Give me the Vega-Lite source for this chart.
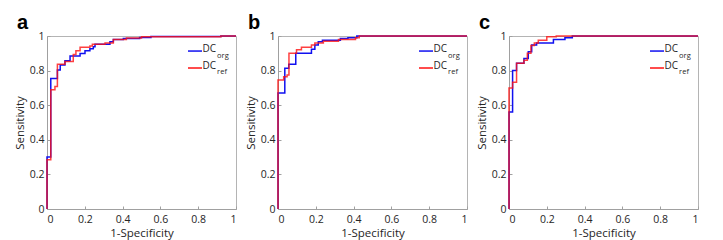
{
  "$schema": "https://vega.github.io/schema/vega-lite/v6.json",
  "background": "white",
  "padding": {"left": 13, "top": 12, "right": 5, "bottom": 5},
  "bounds": "flush",
  "spacing": 42,
  "datasets": {
    "roc": [
      {"p":"a","s":"org","i":0,"x":0,"y":0},
      {"p":"a","s":"org","i":1,"x":0,"y":0.3},
      {"p":"a","s":"org","i":2,"x":0.02,"y":0.755},
      {"p":"a","s":"org","i":3,"x":0.055,"y":0.803},
      {"p":"a","s":"org","i":4,"x":0.07,"y":0.832},
      {"p":"a","s":"org","i":5,"x":0.095,"y":0.857},
      {"p":"a","s":"org","i":6,"x":0.122,"y":0.884},
      {"p":"a","s":"org","i":7,"x":0.175,"y":0.899},
      {"p":"a","s":"org","i":8,"x":0.201,"y":0.915},
      {"p":"a","s":"org","i":9,"x":0.227,"y":0.927},
      {"p":"a","s":"org","i":10,"x":0.245,"y":0.938},
      {"p":"a","s":"org","i":11,"x":0.254,"y":0.953},
      {"p":"a","s":"org","i":12,"x":0.333,"y":0.967},
      {"p":"a","s":"org","i":13,"x":0.351,"y":0.98},
      {"p":"a","s":"org","i":14,"x":0.404,"y":0.985},
      {"p":"a","s":"org","i":15,"x":0.49,"y":0.992},
      {"p":"a","s":"org","i":16,"x":0.55,"y":0.997},
      {"p":"a","s":"org","i":17,"x":0.92,"y":1},
      {"p":"a","s":"org","i":18,"x":1,"y":1},
      {"p":"a","s":"ref","i":0,"x":0,"y":0},
      {"p":"a","s":"ref","i":1,"x":0,"y":0.285},
      {"p":"a","s":"ref","i":2,"x":0.02,"y":0.69},
      {"p":"a","s":"ref","i":3,"x":0.042,"y":0.708},
      {"p":"a","s":"ref","i":4,"x":0.055,"y":0.836},
      {"p":"a","s":"ref","i":5,"x":0.095,"y":0.852},
      {"p":"a","s":"ref","i":6,"x":0.139,"y":0.893},
      {"p":"a","s":"ref","i":7,"x":0.153,"y":0.915},
      {"p":"a","s":"ref","i":8,"x":0.175,"y":0.935},
      {"p":"a","s":"ref","i":9,"x":0.227,"y":0.942},
      {"p":"a","s":"ref","i":10,"x":0.24,"y":0.953},
      {"p":"a","s":"ref","i":11,"x":0.307,"y":0.96},
      {"p":"a","s":"ref","i":12,"x":0.351,"y":0.98},
      {"p":"a","s":"ref","i":13,"x":0.42,"y":0.988},
      {"p":"a","s":"ref","i":14,"x":0.5,"y":0.995},
      {"p":"a","s":"ref","i":15,"x":0.92,"y":1},
      {"p":"a","s":"ref","i":16,"x":1,"y":1},
      {"p":"b","s":"org","i":0,"x":0,"y":0},
      {"p":"b","s":"org","i":1,"x":0,"y":0.67},
      {"p":"b","s":"org","i":2,"x":0.036,"y":0.813},
      {"p":"b","s":"org","i":3,"x":0.057,"y":0.836},
      {"p":"b","s":"org","i":4,"x":0.094,"y":0.9},
      {"p":"b","s":"org","i":5,"x":0.177,"y":0.923},
      {"p":"b","s":"org","i":6,"x":0.195,"y":0.948},
      {"p":"b","s":"org","i":7,"x":0.213,"y":0.967},
      {"p":"b","s":"org","i":8,"x":0.235,"y":0.975},
      {"p":"b","s":"org","i":9,"x":0.33,"y":0.985},
      {"p":"b","s":"org","i":10,"x":0.37,"y":0.99},
      {"p":"b","s":"org","i":11,"x":0.417,"y":1},
      {"p":"b","s":"org","i":12,"x":1,"y":1},
      {"p":"b","s":"ref","i":0,"x":0,"y":0},
      {"p":"b","s":"ref","i":1,"x":0,"y":0.746},
      {"p":"b","s":"ref","i":2,"x":0.03,"y":0.765},
      {"p":"b","s":"ref","i":3,"x":0.048,"y":0.775},
      {"p":"b","s":"ref","i":4,"x":0.058,"y":0.9},
      {"p":"b","s":"ref","i":5,"x":0.098,"y":0.92},
      {"p":"b","s":"ref","i":6,"x":0.124,"y":0.935},
      {"p":"b","s":"ref","i":7,"x":0.177,"y":0.948},
      {"p":"b","s":"ref","i":8,"x":0.195,"y":0.96},
      {"p":"b","s":"ref","i":9,"x":0.24,"y":0.97},
      {"p":"b","s":"ref","i":10,"x":0.32,"y":0.98},
      {"p":"b","s":"ref","i":11,"x":0.41,"y":0.99},
      {"p":"b","s":"ref","i":12,"x":0.43,"y":1},
      {"p":"b","s":"ref","i":13,"x":1,"y":1},
      {"p":"c","s":"org","i":0,"x":0,"y":0},
      {"p":"c","s":"org","i":1,"x":0,"y":0.56},
      {"p":"c","s":"org","i":2,"x":0.019,"y":0.8},
      {"p":"c","s":"org","i":3,"x":0.04,"y":0.842},
      {"p":"c","s":"org","i":4,"x":0.079,"y":0.87},
      {"p":"c","s":"org","i":5,"x":0.102,"y":0.909},
      {"p":"c","s":"org","i":6,"x":0.12,"y":0.948},
      {"p":"c","s":"org","i":7,"x":0.146,"y":0.96},
      {"p":"c","s":"org","i":8,"x":0.235,"y":0.98},
      {"p":"c","s":"org","i":9,"x":0.296,"y":0.99},
      {"p":"c","s":"org","i":10,"x":0.335,"y":1},
      {"p":"c","s":"org","i":11,"x":1,"y":1},
      {"p":"c","s":"ref","i":0,"x":0,"y":0},
      {"p":"c","s":"ref","i":1,"x":0,"y":0.7},
      {"p":"c","s":"ref","i":2,"x":0.019,"y":0.733},
      {"p":"c","s":"ref","i":3,"x":0.04,"y":0.842},
      {"p":"c","s":"ref","i":4,"x":0.079,"y":0.86},
      {"p":"c","s":"ref","i":5,"x":0.097,"y":0.9},
      {"p":"c","s":"ref","i":6,"x":0.116,"y":0.945},
      {"p":"c","s":"ref","i":7,"x":0.134,"y":0.96},
      {"p":"c","s":"ref","i":8,"x":0.155,"y":0.975},
      {"p":"c","s":"ref","i":9,"x":0.2,"y":0.995},
      {"p":"c","s":"ref","i":10,"x":0.25,"y":1},
      {"p":"c","s":"ref","i":11,"x":1,"y":1}
    ]
  },
  "config": {
    "view": {"stroke": "#b4b4b4", "strokeWidth": 1},
    "axis": {
      "grid": false,
      "domainColor": "#a0a0a0",
      "tickColor": "#a0a0a0",
      "tickSize": -3,
      "labelFont": "Open Sans",
      "labelFontSize": 10.5,
      "labelColor": "#262626",
      "titleFont": "Open Sans",
      "titleFontSize": 11.5,
      "titleFontWeight": "normal",
      "titleColor": "#262626",
      "values": [0, 0.2, 0.4, 0.6, 0.8, 1],
      "format": "~g"
    },
    "axisX": {"titlePadding": 3, "labelPadding": 8},
    "axisY": {"titlePadding": 4, "labelPadding": 6},
    "title": {"font": "Liberation Sans", "fontSize": 20, "fontWeight": "bold", "color": "#000000", "anchor": "start", "frame": "group", "dx": -30, "offset": -2}
  },
  "hconcat": [
    {
      "width": 189, "height": 173,
      "title": "a",
      "layer": [
        {
          "data": {"name": "roc"},
          "transform": [{"filter": "datum.p == 'a'"}],
          "mark": {"type": "line", "interpolate": "step-after", "strokeWidth": 1.5},
          "encoding": {
            "x": {"field": "x", "type": "quantitative", "scale": {"domain": [0, 1], "nice": false}, "axis": {"title": "1-Specificity"}},
            "y": {"field": "y", "type": "quantitative", "scale": {"domain": [0, 1], "nice": false}, "axis": {"title": "Sensitivity"}},
            "color": {"field": "s", "type": "nominal", "scale": {"domain": ["org", "ref"], "range": ["#1010f0", "#ff1010"]}, "legend": null},
            "opacity": {"field": "s", "type": "nominal", "scale": {"domain": ["org", "ref"], "range": [1, 0.8]}, "legend": null},
            "order": {"field": "i", "type": "quantitative"}
          }
        },
        {"data": {"values": [{}]}, "mark": {"type": "rule", "color": "#1010f0", "strokeWidth": 1.5}, "encoding": {"x": {"datum": 0.746}, "x2": {"datum": 0.82}, "y": {"datum": 0.913}}},
        {"data": {"values": [{}]}, "mark": {"type": "rule", "color": "#ff1010", "strokeWidth": 1.5}, "encoding": {"x": {"datum": 0.746}, "x2": {"datum": 0.82}, "y": {"datum": 0.815}}},
        {"data": {"values": [{}]}, "mark": {"type": "text", "align": "left", "baseline": "middle", "font": "Open Sans", "fontSize": 10, "color": "#262626"}, "encoding": {"x": {"datum": 0.823}, "y": {"datum": 0.925}, "text": {"value": "DC"}}},
        {"data": {"values": [{}]}, "mark": {"type": "text", "align": "left", "baseline": "middle", "font": "Open Sans", "fontSize": 7.5, "color": "#262626"}, "encoding": {"x": {"datum": 0.9}, "y": {"datum": 0.885}, "text": {"value": "org"}}},
        {"data": {"values": [{}]}, "mark": {"type": "text", "align": "left", "baseline": "middle", "font": "Open Sans", "fontSize": 10, "color": "#262626"}, "encoding": {"x": {"datum": 0.823}, "y": {"datum": 0.827}, "text": {"value": "DC"}}},
        {"data": {"values": [{}]}, "mark": {"type": "text", "align": "left", "baseline": "middle", "font": "Open Sans", "fontSize": 7.5, "color": "#262626"}, "encoding": {"x": {"datum": 0.9}, "y": {"datum": 0.79}, "text": {"value": "ref"}}}
      ]
    },
    {
      "width": 189, "height": 173,
      "title": "b",
      "layer": [
        {
          "data": {"name": "roc"},
          "transform": [{"filter": "datum.p == 'b'"}],
          "mark": {"type": "line", "interpolate": "step-after", "strokeWidth": 1.5},
          "encoding": {
            "x": {"field": "x", "type": "quantitative", "scale": {"domain": [0, 1], "nice": false}, "axis": {"title": "1-Specificity"}},
            "y": {"field": "y", "type": "quantitative", "scale": {"domain": [0, 1], "nice": false}, "axis": {"title": "Sensitivity"}},
            "color": {"field": "s", "type": "nominal", "scale": {"domain": ["org", "ref"], "range": ["#1010f0", "#ff1010"]}, "legend": null},
            "opacity": {"field": "s", "type": "nominal", "scale": {"domain": ["org", "ref"], "range": [1, 0.8]}, "legend": null},
            "order": {"field": "i", "type": "quantitative"}
          }
        },
        {"data": {"values": [{}]}, "mark": {"type": "rule", "color": "#1010f0", "strokeWidth": 1.5}, "encoding": {"x": {"datum": 0.746}, "x2": {"datum": 0.82}, "y": {"datum": 0.913}}},
        {"data": {"values": [{}]}, "mark": {"type": "rule", "color": "#ff1010", "strokeWidth": 1.5}, "encoding": {"x": {"datum": 0.746}, "x2": {"datum": 0.82}, "y": {"datum": 0.815}}},
        {"data": {"values": [{}]}, "mark": {"type": "text", "align": "left", "baseline": "middle", "font": "Open Sans", "fontSize": 10, "color": "#262626"}, "encoding": {"x": {"datum": 0.823}, "y": {"datum": 0.925}, "text": {"value": "DC"}}},
        {"data": {"values": [{}]}, "mark": {"type": "text", "align": "left", "baseline": "middle", "font": "Open Sans", "fontSize": 7.5, "color": "#262626"}, "encoding": {"x": {"datum": 0.9}, "y": {"datum": 0.885}, "text": {"value": "org"}}},
        {"data": {"values": [{}]}, "mark": {"type": "text", "align": "left", "baseline": "middle", "font": "Open Sans", "fontSize": 10, "color": "#262626"}, "encoding": {"x": {"datum": 0.823}, "y": {"datum": 0.827}, "text": {"value": "DC"}}},
        {"data": {"values": [{}]}, "mark": {"type": "text", "align": "left", "baseline": "middle", "font": "Open Sans", "fontSize": 7.5, "color": "#262626"}, "encoding": {"x": {"datum": 0.9}, "y": {"datum": 0.79}, "text": {"value": "ref"}}}
      ]
    },
    {
      "width": 189, "height": 173,
      "title": "c",
      "layer": [
        {
          "data": {"name": "roc"},
          "transform": [{"filter": "datum.p == 'c'"}],
          "mark": {"type": "line", "interpolate": "step-after", "strokeWidth": 1.5},
          "encoding": {
            "x": {"field": "x", "type": "quantitative", "scale": {"domain": [0, 1], "nice": false}, "axis": {"title": "1-Specificity"}},
            "y": {"field": "y", "type": "quantitative", "scale": {"domain": [0, 1], "nice": false}, "axis": {"title": "Sensitivity"}},
            "color": {"field": "s", "type": "nominal", "scale": {"domain": ["org", "ref"], "range": ["#1010f0", "#ff1010"]}, "legend": null},
            "opacity": {"field": "s", "type": "nominal", "scale": {"domain": ["org", "ref"], "range": [1, 0.8]}, "legend": null},
            "order": {"field": "i", "type": "quantitative"}
          }
        },
        {"data": {"values": [{}]}, "mark": {"type": "rule", "color": "#1010f0", "strokeWidth": 1.5}, "encoding": {"x": {"datum": 0.746}, "x2": {"datum": 0.82}, "y": {"datum": 0.913}}},
        {"data": {"values": [{}]}, "mark": {"type": "rule", "color": "#ff1010", "strokeWidth": 1.5}, "encoding": {"x": {"datum": 0.746}, "x2": {"datum": 0.82}, "y": {"datum": 0.815}}},
        {"data": {"values": [{}]}, "mark": {"type": "text", "align": "left", "baseline": "middle", "font": "Open Sans", "fontSize": 10, "color": "#262626"}, "encoding": {"x": {"datum": 0.823}, "y": {"datum": 0.925}, "text": {"value": "DC"}}},
        {"data": {"values": [{}]}, "mark": {"type": "text", "align": "left", "baseline": "middle", "font": "Open Sans", "fontSize": 7.5, "color": "#262626"}, "encoding": {"x": {"datum": 0.9}, "y": {"datum": 0.885}, "text": {"value": "org"}}},
        {"data": {"values": [{}]}, "mark": {"type": "text", "align": "left", "baseline": "middle", "font": "Open Sans", "fontSize": 10, "color": "#262626"}, "encoding": {"x": {"datum": 0.823}, "y": {"datum": 0.827}, "text": {"value": "DC"}}},
        {"data": {"values": [{}]}, "mark": {"type": "text", "align": "left", "baseline": "middle", "font": "Open Sans", "fontSize": 7.5, "color": "#262626"}, "encoding": {"x": {"datum": 0.9}, "y": {"datum": 0.79}, "text": {"value": "ref"}}}
      ]
    }
  ]
}
